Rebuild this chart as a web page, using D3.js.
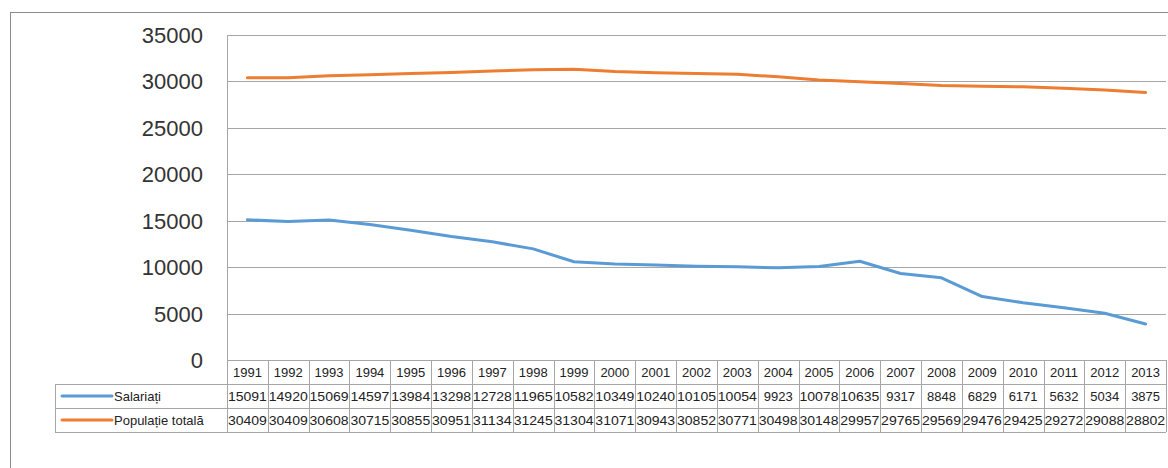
<!DOCTYPE html>
<html><head><meta charset="utf-8">
<script src="https://cdn.jsdelivr.net/npm/d3@7"></script>
<style>body{margin:0;background:#fff}svg{display:block}</style>
</head><body><svg id="c" width="1168" height="468"></svg>
<script>
const years = ["1991","1992","1993","1994","1995","1996","1997","1998","1999","2000","2001","2002","2003","2004","2005","2006","2007","2008","2009","2010","2011","2012","2013"];
const salariati = [15091,14920,15069,14597,13984,13298,12728,11965,10582,10349,10240,10105,10054,9923,10078,10635,9317,8848,6829,6171,5632,5034,3875];
const populatie = [30409,30409,30608,30715,30855,30951,31134,31245,31304,31071,30943,30852,30771,30498,30148,29957,29765,29569,29476,29425,29272,29088,28802];
const yTicks = [0,5000,10000,15000,20000,25000,30000,35000];
const seriesNames = ["Salariați","Populație totală"];
const seriesColors = ["#5B9BD5","#ED7D31"];

const svg = d3.select("#c");
const font = "'Liberation Sans', Arial, sans-serif";
const grid = "#a6a6a6";
// outer frame
svg.append("rect").attr("x",10.5).attr("y",12.5).attr("width",1300).attr("height",600)
  .attr("fill","none").attr("stroke","#8c8c8c").attr("stroke-width",1);

const L = 227, R = 1166, T = 35, B = 360;
const x = d3.scaleBand().domain(years).range([L,R]);
const y = d3.scaleLinear().domain([0,35000]).range([B,T]);

// gridlines
svg.append("g").selectAll("line").data(yTicks).join("line")
  .attr("x1",L).attr("x2",R).attr("y1",d=>Math.round(y(d))+0.5).attr("y2",d=>Math.round(y(d))+0.5)
  .attr("stroke",grid).attr("stroke-width",1);
// y labels
svg.append("g").selectAll("text").data(yTicks).join("text")
  .attr("x",203).attr("y",d=>y(d)+8).attr("text-anchor","end")
  .attr("font-family",font).attr("font-size",22).attr("fill","#333")
  .text(d=>d);

// table
const rowTop = [B, 384, 408, 432];
const tg = svg.append("g").attr("stroke",grid).attr("stroke-width",1).attr("fill","none");
// horizontal lines
tg.append("line").attr("x1",L).attr("x2",R).attr("y1",B+0.5).attr("y2",B+0.5);
[384,408,432].forEach(v=>tg.append("line").attr("x1",55).attr("x2",R).attr("y1",v+0.5).attr("y2",v+0.5));
// vertical lines
const vx = years.map(d=>x(d)).concat([R]);
tg.selectAll("line.v").data(vx).join("line").attr("class","v")
  .attr("x1",d=>Math.round(d)+0.5).attr("x2",d=>Math.round(d)+0.5)
  .attr("y1",(d,i)=> i===0 ? T : B).attr("y2",432);
tg.append("line").attr("x1",55.5).attr("x2",55.5).attr("y1",384).attr("y2",432);

const cx = d => x(d)+x.bandwidth()/2;
const tt = svg.append("g").attr("font-family",font).attr("font-size",13).attr("fill","#222").attr("text-anchor","middle");
tt.selectAll("text.yr").data(years).join("text").attr("class","yr")
  .attr("x",cx).attr("y",377).text(d=>d);
tt.selectAll("text.s").data(salariati).join("text").attr("class","s")
  .attr("x",(d,i)=>cx(years[i])).attr("y",401).attr("textLength",d=>String(d).length>=5?39:null).attr("lengthAdjust","spacingAndGlyphs").text(d=>d);
tt.selectAll("text.p").data(populatie).join("text").attr("class","p")
  .attr("x",(d,i)=>cx(years[i])).attr("y",425).attr("textLength",39).attr("lengthAdjust","spacingAndGlyphs").text(d=>d);

// legend in table
seriesNames.forEach((n,i)=>{
  const yy = 396 + i*24;
  svg.append("line").attr("x1",62).attr("x2",112).attr("y1",yy).attr("y2",yy)
    .attr("stroke",seriesColors[i]).attr("stroke-width",3).attr("stroke-linecap","round");
  svg.append("text").attr("x",114).attr("y",yy+5).attr("font-family",font).attr("font-size",13)
    .attr("fill","#222").text(n);
});

// lines
[salariati,populatie].forEach((arr,i)=>{
  const line = d3.line().x((d,j)=>cx(years[j])).y(d=>y(d));
  svg.append("path").datum(arr).attr("d",line).attr("fill","none")
    .attr("stroke",seriesColors[i]).attr("stroke-width",3).attr("stroke-linejoin","round").attr("stroke-linecap","round");
});
</script></body></html>
